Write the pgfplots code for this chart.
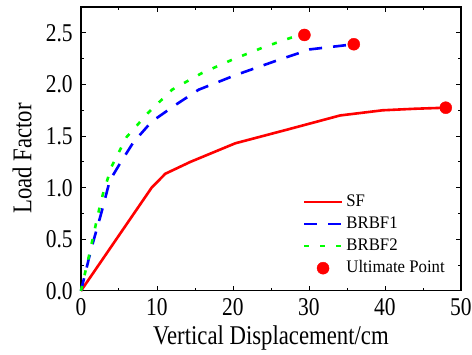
\documentclass[border=0pt]{standalone}
\usepackage{pgfplots}
\pgfplotsset{compat=1.18}
\usepackage{fontspec}
\setmainfont{Liberation Serif}[FakeStretch=0.84]
\newfontfamily\legfont{Liberation Serif}[FakeStretch=0.95]
\pgfplotsset{
  mylinelegend/.style={legend image code/.code={\draw[##1] (0bp,0bp) -- (38bp,0bp);}},
  mymarklegend/.style={legend image code/.code={\draw[mark repeat=2,mark phase=2,##1] plot coordinates {(0bp,0bp) (19bp,0bp) (38bp,0bp)};}},
}
\begin{document}
\begin{tikzpicture}
\begin{axis}[
  scale only axis,
  width=379bp, height=283bp,
  xmin=0, xmax=50, ymin=0, ymax=2.75,
  xtick={0,10,20,30,40,50},
  xticklabels={0,10,20,30,40,50},
  ytick={0,0.5,1.0,1.5,2.0,2.5},
  yticklabels={0.0,0.5,1.0,1.5,2.0,2.5},
  minor x tick num=1, minor y tick num=1,
  tick align=inside,
  major tick length=5bp, minor tick length=3bp,
  xtick pos=both, ytick pos=both,
  xticklabel pos=lower, yticklabel pos=left,
  axis line style={line width=1.2bp},
  every tick/.style={black, line width=0.9bp},
  tick label style={font=\fontsize{25.5bp}{28bp}\selectfont, inner sep=0pt},
  xticklabel style={anchor=north, yshift=-7bp},
  yticklabel style={anchor=east, xshift=-8bp},
  label style={font=\fontsize{27bp}{30bp}\selectfont, inner sep=0pt},
  xlabel={Vertical Displacement/cm},
  ylabel={Load Factor},
  xlabel style={at={(ticklabel cs:0.5,10bp)}, anchor=north},
  ylabel style={at={(ticklabel cs:0.466,14bp)}, anchor=south},
  clip=false,
  legend style={draw=none, fill=none, at={(rel axis cs:0.583,0.351)}, anchor=north west,
    font=\legfont\fontsize{17.6bp}{20bp}\selectfont, row sep=1bp, inner sep=0pt,
    nodes={text height=12bp, text depth=3bp, inner sep=3bp}},
  legend cell align=left,
]
\addplot[red, line width=2.6bp, mylinelegend] coordinates {
 (0,0) (9.3,1.0) (11.1,1.135) (14.4,1.25) (20.3,1.43) (27,1.56) (34.1,1.70) (39.7,1.75) (44,1.765) (48,1.775)};
\addlegendentry{SF}
\addplot[blue, line width=2.6bp, dash pattern=on 13bp off 11bp, mylinelegend] coordinates {
 (0,0) (0.1,0.03) (1.4,0.42) (2.7,0.76) (3.8,1.07) (5.1,1.23) (6.9,1.44) (9.3,1.64) (12.4,1.80) (15.5,1.95) (18.6,2.04) (20.3,2.09) (25.3,2.22) (30.1,2.34) (33.6,2.37) (35.9,2.39)};
\addlegendentry{BRBF1}
\addplot[green, line width=2.6bp, dash pattern=on 5bp off 11bp, mylinelegend] coordinates {
 (0,0) (1.0,0.32) (2.3,0.76) (2.9,0.94) (4.0,1.2) (6.0,1.49) (8.9,1.73) (12.0,1.95) (15.9,2.11) (19.9,2.24) (24,2.36) (27.9,2.46) (29.4,2.48)};
\addlegendentry{BRBF2}
\addplot[only marks, mark=*, mark size=6bp, red, mark options={fill=red, draw=red}, mymarklegend] coordinates {
 (29.4,2.48) (35.9,2.39) (48,1.775)};
\addlegendentry{Ultimate Point}
\path (rel axis cs:-0.213,-0.223) rectangle (rel axis cs:1.029,1.025);
\end{axis}
\end{tikzpicture}
\end{document}
